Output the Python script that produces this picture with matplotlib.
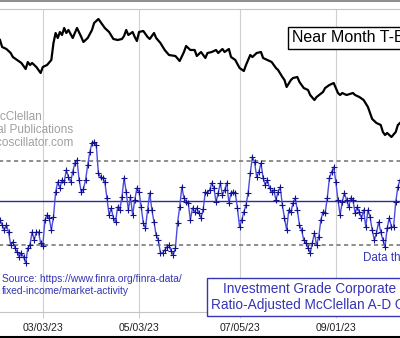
import matplotlib
matplotlib.use('Agg')
import matplotlib.pyplot as plt

plt.rcParams['font.family'] = ['Liberation Sans', 'DejaVu Sans']

# --- data -------------------------------------------------------------
# ratio-adjusted A-D oscillator, one value per trading day
osc = [
    -19, -24, -29, -24, -31, -44, -41, -47, -51, -56,
    -52, -56, -62, -47, -44, -31, -39, -31, -31, -42,
    -45, -19, -14, -17, -29, -16, 9, 19, 13, 21,
    19, 31, 24, 19, 29, 38, 41, 21, 9, 12,
    21, 36, 49, 58, 59, 56, 28, 24, 23, 19,
    3, -14, -7, -17, -21, -6, -9, 4, 23, 9,
    -9, 4,
    -14, 1, 13, 9, -6, -22, -27, -9, 8, -9,
    -21, -34, -39, -52, -52, -49, -46, -44, -50, -54,
    -47, -22, -6, 14, 3, -1, -2, -19, -7, -11,
    -7, -12, -17, -8, 9, 8, 11, 18, 13, -1,
    8, 18, 6, 11, 18, -2, 8, 9, 8, -7,
    -26, -19, -11, -4, 8, 28, 44, 39, 24, 29,
    38, 23, 16,
    21, 13, 9, 11, 1, 9, 14, -4, -17, -29,
    -9, -11, -2, 3, -9, -24, -29, -39, -42, -47,
    -52, -42, -32, -44, -36, -19, -11, -12, 3, 23,
    29, 34, 19, 1, -14, -1, 8, 1, -6, 3,
    1, -12, -6, -11, -17, -9, -26, -9, -16, -29,
    -39, -32, -21, -31, -39, -46, -27, -17, -26, -26,
    -1, 14, 21,
]
osc_days = list(range(len(osc)))
upper_level = 40
lower_level = -44

# near month T-bond futures (trading day index, price)
bond_days = [
    0, 1, 3, 5, 6, 8, 10, 12, 13, 14,
    15, 17, 18, 19, 20, 22, 24, 25, 26, 27,
    28, 29, 30, 31, 32, 34, 35, 36, 38, 39,
    41, 43, 44, 46, 48, 49, 51, 53, 55, 57,
    58, 59, 60, 62, 63, 64, 65, 67, 69, 70,
    72, 73, 75, 77, 79, 82, 84, 86, 87, 89,
    91, 92, 94, 96, 97, 99, 101, 102, 104, 105,
    107, 108, 110, 112, 114, 115, 117, 118, 120, 122,
    123, 125, 127, 129, 130, 132, 133, 134, 136, 137,
    139, 140, 142, 144, 145, 147, 148, 151, 152, 154,
    156, 158, 159, 160, 162, 165, 166, 168, 170, 172,
    173, 174, 176, 178, 179, 180, 181, 183, 185, 186,
    187,
]
bond = [
    128.3, 126.9, 126.5, 125.7, 124.9, 124.3, 123.7, 122.5, 123.9, 123.3,
    123.7, 122.9, 122.3, 121.7, 122.9, 123.3, 124.3, 127.7, 129.7, 128.7,
    129.9, 129.3, 130.7, 129.7, 130.3, 128.7, 129.7, 130.7, 128.9, 127.9,
    128.7, 130.3, 131.7, 132.5, 131.3, 130.7, 129.9, 128.5, 128.3, 128.5,
    129.1, 130.3, 129.3, 129.9, 128.9, 128.1, 129.9, 130.1, 128.9, 128.5,
    129.7, 128.7, 127.7, 126.3, 125.3, 125.1, 124.1, 125.9, 127.1, 126.3,
    126.3, 125.1, 125.9, 124.7, 125.7, 125.9, 126.3, 125.7, 126.5, 125.9,
    126.5, 124.9, 124.3, 122.7, 122.1, 123.3, 125.3, 124.9, 125.7, 125.9,
    124.7, 124.3, 123.9, 122.7, 122.3, 120.9, 120.3, 118.9, 120.3, 120.7,
    120.9, 119.9, 118.7, 118.3, 117.3, 116.3, 116.9, 117.9, 118.7, 119.3,
    119.7, 117.7, 117.3, 117.7, 117.3, 117.7, 117.3, 116.9, 116.3, 114.9,
    113.7, 112.5, 111.7, 111.3, 109.9, 109.3, 109.7, 108.9, 109.9, 111.3,
    111.7,
]

tick_days = [20, 65, 112, 157]
tick_labels = ['03/03/23', '05/03/23', '07/05/23', '09/01/23']

# --- figure -------------------------------------------------------------
W, H = 400, 338
fig = plt.figure(figsize=(W / 100, H / 100), dpi=100)

# axes runs past both figure edges so no side spines show
ax = fig.add_axes([-0.05, (H - 312) / H, 1.1, 303 / H])
ax.set_xlim(-9.35, 196.35)
ax.set_ylim(-111, 192)

ax.axhline(upper_level, color='#7a7a7a', lw=1.2, ls=(0, (2.5, 2)))
ax.axhline(lower_level, color='#7a7a7a', lw=1.2, ls=(0, (2.5, 2)))
ax.axhline(0, color='#2a2aa8', lw=1.0)
ax.plot(osc_days, osc, color='#4c4ce0', lw=1.0, marker='+', ms=5,
        mec='#12128c', mew=0.8)

ax.set_xticks(tick_days)
ax.set_xticklabels(tick_labels)
ax.tick_params(axis='x', length=4, color='#cccccc', pad=4,
               labelsize=7.6, labelcolor='#222222')
ax.set_yticks([])
ax.xaxis.grid(True, color='#d0d0d0', lw=0.8)
ax.set_axisbelow(True)
for side in ('left', 'right'):
    ax.spines[side].set_visible(False)
for side in ('top', 'bottom'):
    ax.spines[side].set_color('#c4c4c4')

ax2 = ax.twinx()
ax2.set_ylim(73.9, 134.5)
ax2.plot(bond_days, bond, color='black', lw=1.6)
ax2.set_yticks([])
for sp in ax2.spines.values():
    sp.set_visible(False)

# --- text -------------------------------------------------------------
fig.text(16 / W, 1 - 130 / H,
         'McClellan\nFinancial Publications\nwww.mcoscillator.com',
         ha='center', va='center', fontsize=8.5, color='#a0a0a0',
         linespacing=1.15)

fig.text(292 / W, 1 - 38 / H, 'Near Month T-Bond Futures',
         ha='left', va='center', fontsize=11.5, color='black',
         bbox=dict(boxstyle='square,pad=0.25', facecolor='white',
                   edgecolor='black', lw=1))

fig.text(2 / W, 1 - 285 / H,
         'Source: https://www.finra.org/finra-data/\nfixed-income/market-activity',
         ha='left', va='center', fontsize=7.4, color='#3535b5',
         linespacing=1.2)

fig.text(363 / W, 1 - 258 / H, 'Data through 10/13/23',
         ha='left', va='center', fontsize=8.4, color='#3535b5')

fig.text(331 / W, 1 - 297 / H,
         'Investment Grade Corporate Bonds\nRatio-Adjusted McClellan A-D Oscillator',
         ha='center', va='center', ma='center', fontsize=9.8, color='#3535b5',
         linespacing=1.1,
         bbox=dict(boxstyle='square,pad=0.3', facecolor='white',
                   edgecolor='#3535b5', lw=1))

# frame lines of the cropped image
fig.add_artist(plt.Line2D([0, 1], [1 - 1 / H, 1 - 1 / H], transform=fig.transFigure,
                          color='#909090', lw=1.5))
fig.add_artist(plt.Line2D([0, 1], [1 / H, 1 / H], transform=fig.transFigure,
                          color='black', lw=1.5))

fig.savefig('out.png', dpi=100)
